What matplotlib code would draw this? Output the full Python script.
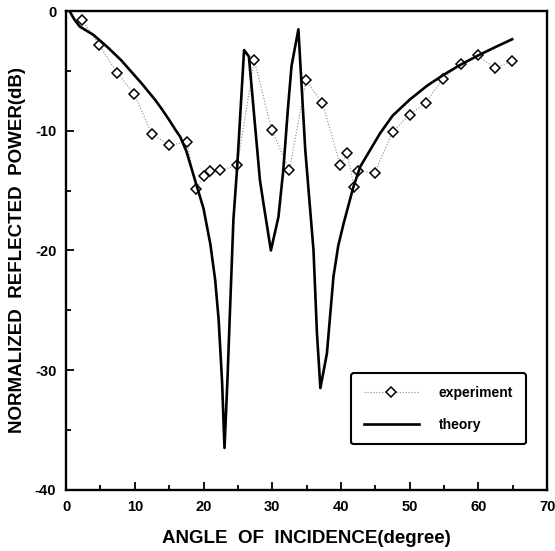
import matplotlib
matplotlib.use('Agg')
import matplotlib.pyplot as plt
from matplotlib.ticker import MultipleLocator

plt.rcParams['font.family'] = ['Liberation Sans', 'DejaVu Sans']
plt.rcParams['font.weight'] = 'bold'
plt.rcParams['axes.unicode_minus'] = False

# experiment (measured points)
exp_angle = [2.3, 4.8, 7.4, 9.9, 12.5, 15.0, 17.6, 18.9, 20.0, 21.0, 22.4, 24.9,
             27.4, 29.9, 32.5, 34.9, 37.3, 39.9, 40.9, 41.9, 42.4, 44.9, 47.5,
             50.0, 52.3, 54.8, 57.4, 59.9, 62.4, 64.9]
exp_power = [-0.75, -2.8, -5.15, -6.9, -10.3, -11.2, -10.95, -14.9, -13.8, -13.4,
             -13.3, -12.9, -4.1, -9.9, -13.3, -5.8, -7.7, -12.85, -11.9, -14.7,
             -13.4, -13.5, -10.1, -8.65, -7.65, -5.7, -4.4, -3.7, -4.8, -4.15]

# theory curve
th_angle = [0.5, 1.2, 2.0, 3.0, 4.0, 5.0, 6.0, 7.0, 8.0, 9.0, 10.0, 11.0, 12.0,
            13.0, 14.0, 15.0, 16.0, 16.6, 17.5, 18.8, 20.0, 21.0, 21.7, 22.2,
            22.7, 23.05, 23.5, 23.8, 24.35, 24.9, 25.9, 26.6, 28.2, 28.7, 29.8,
            30.9, 31.6, 32.3, 32.8, 33.8, 34.8, 36.0, 36.5, 37.0, 37.95, 38.9,
            39.6, 40.4, 41.8, 42.8, 44.25, 45.7, 47.5, 50.0, 52.5, 55.0, 57.5,
            60.0, 62.5, 64.9]
th_power = [0.0, -0.7, -1.3, -1.65, -2.0, -2.5, -3.0, -3.55, -4.1, -4.75, -5.4,
            -6.05, -6.75, -7.45, -8.25, -9.1, -10.0, -10.5, -11.7, -14.2, -16.5,
            -19.5, -22.5, -25.8, -31.0, -36.5, -30.5, -25.8, -17.4, -13.0, -3.26,
            -3.8, -14.1, -16.0, -20.0, -17.2, -13.3, -8.0, -4.6, -1.53, -11.6,
            -20.0, -26.9, -31.5, -28.6, -22.2, -19.6, -17.7, -14.7, -13.0, -11.6,
            -10.2, -8.75, -7.4, -6.25, -5.3, -4.45, -3.7, -3.0, -2.36]

fig = plt.figure(figsize=(5.55, 5.51), dpi=100)
ax = fig.add_axes([0.119, 0.111, 0.867, 0.869])

ax.plot(exp_angle, exp_power, linestyle=':', color='#888888', linewidth=0.8,
        marker='D', markersize=5.5, markerfacecolor='white',
        markeredgecolor='black', markeredgewidth=1.1, label='experiment')
ax.plot(th_angle, th_power, color='black', linewidth=1.9, label='theory')

ax.set_xlim(0, 70)
ax.set_ylim(-40, 0)
ax.xaxis.set_major_locator(MultipleLocator(10))
ax.xaxis.set_minor_locator(MultipleLocator(5))
ax.yaxis.set_major_locator(MultipleLocator(10))
ax.yaxis.set_minor_locator(MultipleLocator(5))
ax.tick_params(which='both', direction='in', top=False, right=False,
               labelsize=10.5, width=1.3)
ax.tick_params(which='major', length=6, pad=7)
ax.tick_params(which='minor', length=3.5)
for s in ax.spines.values():
    s.set_linewidth(1.7)

ax.set_xlabel('ANGLE  OF  INCIDENCE(degree)', fontsize=13.5, fontweight='bold', labelpad=12)
ax.set_ylabel('NORMALIZED  REFLECTED  POWER(dB)', fontsize=13.5, fontweight='bold', labelpad=6)

leg = ax.legend(loc='lower right', bbox_to_anchor=(0.955, 0.095), fontsize=10,
                frameon=True, fancybox=True, edgecolor='black', handlelength=4.0,
                borderpad=0.9, labelspacing=1.3, handletextpad=1.4,
                borderaxespad=0)
leg.get_frame().set_linewidth(1.5)
leg.get_frame().set_alpha(1)

fig.savefig('out.png', dpi=100)
